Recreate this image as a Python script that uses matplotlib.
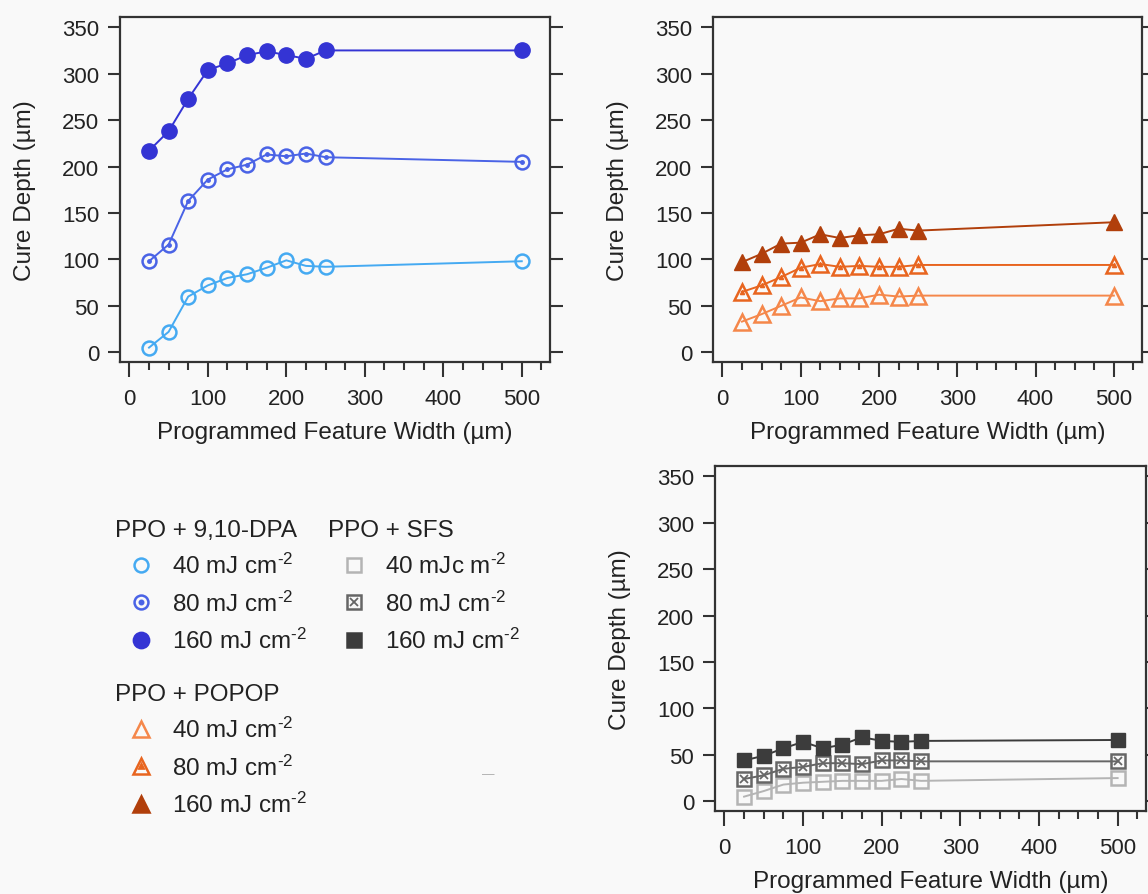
import matplotlib
matplotlib.use('Agg')
import matplotlib.pyplot as plt
from matplotlib.lines import Line2D
from matplotlib.ticker import MultipleLocator

plt.rcParams['font.family'] = ['Liberation Sans', 'DejaVu Sans']
plt.rcParams['mathtext.fontset'] = 'custom'
plt.rcParams['mathtext.rm'] = 'Liberation Sans'
plt.rcParams['mathtext.default'] = 'regular'

# programmed feature width (um)
widths = [25, 50, 75, 100, 125, 150, 175, 200, 225, 250, 500]

# cure depth (um), PPO + 9,10-DPA
dpa_40 = [5, 22, 60, 72, 80, 84, 91, 99, 93, 92, 98]
dpa_80 = [98, 116, 163, 186, 197, 202, 213, 211, 214, 210, 205]
dpa_160 = [217, 238, 273, 304, 311, 320, 324, 320, 316, 325, 325]

# PPO + POPOP
popop_40 = [33, 41, 50, 59, 55, 58, 58, 62, 60, 61, 61]
popop_80 = [65, 72, 81, 91, 95, 92, 93, 92, 92, 94, 94]
popop_160 = [97, 106, 117, 118, 127, 123, 126, 127, 133, 131, 140]

# PPO + SFS
sfs_40 = [5, 11, 18, 20, 21, 22, 22, 22, 24, 22, 25]
sfs_80 = [24, 28, 35, 37, 41, 41, 40, 44, 44, 43, 43]
sfs_160 = [44, 49, 57, 64, 57, 61, 69, 65, 64, 65, 66]

dose_labels = [r'40 mJ cm$^{\text{-2}}$', r'80 mJ cm$^{\text{-2}}$', r'160 mJ cm$^{\text{-2}}$']
sfs_labels = [r'40 mJc m$^{\text{-2}}$', r'80 mJ cm$^{\text{-2}}$', r'160 mJ cm$^{\text{-2}}$']

blue = ['#45aaf2', '#4a63e6', '#3434d4']
orange = ['#f5874a', '#e8651f', '#b13f0b']
grey = ['#b4b4b4', '#666666', '#3c3c3c']

bg = '#f9f9f9'
ink = '#333333'

fig = plt.figure(figsize=(11.48, 8.95), dpi=100, facecolor=bg)


def style_axes(ax):
    ax.set_facecolor(bg)
    ax.set_xlim(-12, 536)
    ax.set_ylim(-10.5, 361)
    ax.xaxis.set_major_locator(MultipleLocator(100))
    ax.xaxis.set_minor_locator(MultipleLocator(25))
    ax.yaxis.set_major_locator(MultipleLocator(50))
    for s in ax.spines.values():
        s.set_color(ink)
        s.set_linewidth(1.6)
    ax.tick_params(axis='y', which='major', left=True, right=True, labelright=False,
                   direction='out', length=9, width=1.5, color=ink,
                   labelsize=16, pad=6, labelcolor='#222222')
    ax.tick_params(axis='x', which='major', direction='out', length=11, width=1.5,
                   color=ink, labelsize=16, pad=8, labelcolor='#222222')
    ax.tick_params(axis='x', which='minor', direction='out', length=6, width=1.5, color=ink)
    ax.set_ylabel('Cure Depth (µm)', fontsize=17.5, color='#222222')
    ax.set_xlabel('Programmed Feature Width (µm)', fontsize=17.5, color='#222222')
    ax.yaxis.set_label_coords(-0.195, 0.5)
    ax.xaxis.set_label_coords(0.5, -0.17)


ax1 = fig.add_axes([0.1045, 0.5944, 0.3746, 0.3855])
ax2 = fig.add_axes([0.6211, 0.5944, 0.3737, 0.3855])
ax3 = fig.add_axes([0.6228, 0.0927, 0.3754, 0.3855])
for ax in (ax1, ax2, ax3):
    style_axes(ax)
ax1.yaxis.set_label_coords(-0.195, 0.5)

# PPO + 9,10-DPA
ax1.plot(widths, dpa_40, color=blue[0], lw=1.4, marker='o', ms=10, mfc='none', mew=1.8)
ax1.plot(widths, dpa_80, color=blue[1], lw=1.4, marker='o', ms=10, mfc='none', mew=1.8)
ax1.plot(widths, dpa_80, ls='none', color=blue[1], marker='o', ms=2.5)
ax1.plot(widths, dpa_160, color=blue[2], lw=1.4, marker='o', ms=11)

# PPO + POPOP
ax2.plot(widths, popop_40, color=orange[0], lw=1.4, marker='^', ms=11, mfc='none', mew=1.8)
ax2.plot(widths, popop_80, color=orange[1], lw=1.4, marker='^', ms=11, mfc='none', mew=1.8)
ax2.plot(widths, popop_80, ls='none', color=orange[1], marker='^', ms=3)
ax2.plot(widths, popop_160, color=orange[2], lw=1.4, marker='^', ms=12)

# PPO + SFS
ax3.plot(widths, sfs_40, color=grey[0], lw=1.4, marker='s', ms=10, mfc='none', mew=1.8)
ax3.plot(widths, sfs_80, color=grey[1], lw=1.4, marker='s', ms=10, mfc='none', mew=1.8)
ax3.plot(widths, sfs_80, ls='none', color=grey[1], marker='x', ms=6, mew=1.3)
ax3.plot(widths, sfs_160, color=grey[2], lw=1.4, marker='s', ms=10)


def proxy(color, marker, filled, ms=10):
    return Line2D([], [], ls='none', color=color, marker=marker, ms=ms,
                  mfc=color if filled else 'none', mew=1.8)


dpa_handles = [proxy(blue[0], 'o', False),
               (proxy(blue[1], 'o', False), proxy(blue[1], 'o', True, 2.5)),
               proxy(blue[2], 'o', True, 11)]
popop_handles = [proxy(orange[0], '^', False, 11),
                 (proxy(orange[1], '^', False, 11), proxy(orange[1], '^', True, 3)),
                 proxy(orange[2], '^', True, 12)]
sfs_handles = [proxy(grey[0], 's', False),
               (proxy(grey[1], 's', False), Line2D([], [], ls='none', color=grey[1], marker='x', ms=6, mew=1.3)),
               proxy(grey[2], 's', True)]

leg_kw = dict(loc='upper left', frameon=False, fontsize=17.5, title_fontsize=17.5,
              alignment='left', handlelength=2.1, handletextpad=0.25,
              labelspacing=0.5, borderpad=0, borderaxespad=0, labelcolor='#222222')

for handles, labels, title, anchor in [
        (dpa_handles, dose_labels, 'PPO + 9,10-DPA', (115, 520)),
        (sfs_handles, sfs_labels, 'PPO + SFS', (328, 520)),
        (popop_handles, dose_labels, 'PPO + POPOP', (115, 684))]:
    leg = fig.legend(handles, labels, title=title,
                     bbox_to_anchor=(anchor[0] / 1148, 1 - anchor[1] / 895), **leg_kw)
    leg.get_title().set_color('#222222')

fig.text(488 / 1148, 1 - 775 / 895, '\u2014', color='#aaaaaa', fontsize=9,
         ha='center', va='center')

fig.savefig('out.png', dpi=100, facecolor=bg)
